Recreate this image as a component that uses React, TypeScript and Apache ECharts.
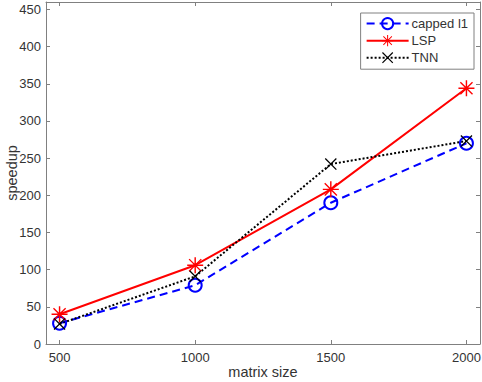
import React, { useEffect, useRef } from "react";
import * as echarts from "echarts";

const matrixSizes = [500, 1000, 1500, 2000];
const cappedL1 = [28, 79, 190, 270];
const lsp = [40, 106, 208, 344];
const tnn = [27, 91, 242, 273];
const xTicks = [500, 1000, 1500, 2000];
const yTicks = [0, 50, 100, 150, 200, 250, 300, 350, 400, 450];

const STAR =
  "path://M9.1 0 H10.9 V20 H9.1 Z M0 9.1 H20 V10.9 H0 Z M3 1.8 L18.2 17 L17 18.2 L1.8 3 Z M17 1.8 L18.2 3 L3 18.2 L1.8 17 Z";
const CROSS =
  "path://M1.5 0 L20 18.5 L18.5 20 L0 1.5 Z M18.5 0 L20 1.5 L1.5 20 L0 18.5 Z";

const AXIS_COLOR = "#808080";
const TEXT_COLOR = "#333333";
const FONT = "Liberation Sans";

export default function App() {
  const ref = useRef<HTMLDivElement>(null);
  useEffect(() => {
    const chart = echarts.init(ref.current!, null, { renderer: "svg" });
    const pair = (vals: number[]) => matrixSizes.map((x, i) => [x, vals[i]]);
    const baseX = {
      type: "value",
      min: 450,
      max: 2050,
      axisLine: { show: true, onZero: false, lineStyle: { color: AXIS_COLOR } },
      splitLine: { show: false },
    };
    const baseY = {
      type: "value",
      min: 0,
      max: 460,
      axisLine: { show: true, onZero: false, lineStyle: { color: AXIS_COLOR } },
      splitLine: { show: false },
    };
    chart.setOption({
      animation: false,
      backgroundColor: "#ffffff",
      textStyle: { fontFamily: FONT },
      grid: { left: 46, right: 2, top: 2, bottom: 38, containLabel: false, outerBoundsMode: "none" },
      xAxis: [
        {
          ...baseX,
          position: "bottom",
          name: "matrix size",
          nameLocation: "middle",
          nameGap: 20,
          nameMoveOverlap: false,
          nameTextStyle: { color: TEXT_COLOR, fontSize: 14.5, fontFamily: FONT },
          axisTick: { inside: true, length: 4, lineStyle: { color: AXIS_COLOR }, customValues: xTicks },
          axisLabel: {
            color: TEXT_COLOR,
            fontSize: 13,
            margin: 7,
            customValues: xTicks,
            fontFamily: FONT,
            formatter: (v: number) => String(v),
          },
        },
        {
          ...baseX,
          position: "top",
          axisTick: { inside: true, length: 4, lineStyle: { color: AXIS_COLOR }, customValues: xTicks },
          axisLabel: { show: false },
        },
      ],
      yAxis: [
        {
          ...baseY,
          position: "left",
          name: "speedup",
          nameLocation: "middle",
          nameGap: 27,
          nameMoveOverlap: false,
          nameTextStyle: { color: TEXT_COLOR, fontSize: 14.5, fontFamily: FONT },
          axisTick: { inside: true, length: 4, lineStyle: { color: AXIS_COLOR }, customValues: yTicks },
          axisLabel: { color: TEXT_COLOR, fontSize: 13, margin: 5, customValues: yTicks, fontFamily: FONT },
        },
        {
          ...baseY,
          position: "right",
          axisTick: { inside: true, length: 4, lineStyle: { color: AXIS_COLOR }, customValues: yTicks },
          axisLabel: { show: false },
        },
      ],
      legend: {
        orient: "vertical",
        right: 8,
        top: 13,
        padding: [4, 6, 5, 5],
        itemGap: 4,
        itemWidth: 42,
        itemHeight: 14,
        backgroundColor: "#ffffff",
        borderColor: "#808080",
        borderWidth: 1,
        textStyle: { color: TEXT_COLOR, fontSize: 13, fontFamily: FONT, padding: [0, 0, 0, -2] },
        data: ["capped l1", "LSP", "TNN"],
      },
      series: [
        {
          name: "capped l1",
          type: "line",
          data: pair(cappedL1),
          symbol: "circle",
          symbolSize: 13,
          itemStyle: { color: "rgba(0,0,0,0)", borderColor: "#0000ff", borderWidth: 2 },
          lineStyle: { color: "#0000ff", width: 2, type: [8, 5] },
        },
        {
          name: "LSP",
          type: "line",
          data: pair(lsp),
          symbol: STAR,
          symbolSize: 16,
          itemStyle: { color: "#ff0000" },
          lineStyle: { color: "#ff0000", width: 2 },
        },
        {
          name: "TNN",
          type: "line",
          data: pair(tnn),
          symbol: CROSS,
          symbolSize: 12,
          itemStyle: { color: "#000000" },
          lineStyle: { color: "#000000", width: 2, type: [2, 2] },
        },
      ],
    });
    return () => chart.dispose();
  }, []);
  return <div ref={ref} style={{ width: 482, height: 382, position: "absolute", left: 0, top: 0 }} />;
}
